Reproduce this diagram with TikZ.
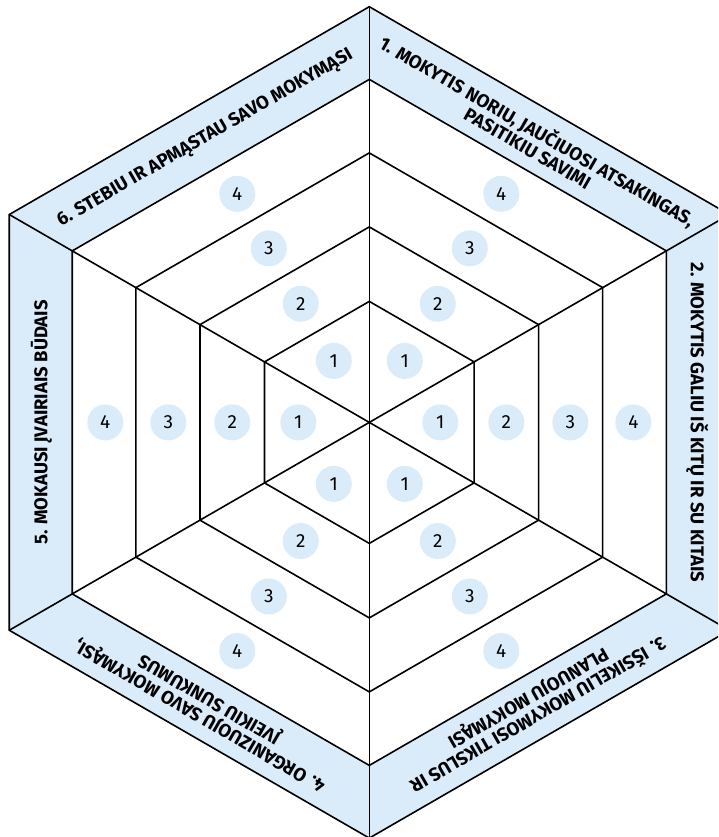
\documentclass[tikz,border=0pt]{standalone}
\usepackage{fontspec}
\setmainfont{Fira Sans}
\definecolor{paleblue}{RGB}{218,235,250}

\begin{document}
\begin{tikzpicture}[x=1pt, y=1pt]
	\tikzset{band/.style = {fill=paleblue, even odd rule}}
	\tikzset{grid/.style = {draw, line width=1.6pt, line join=miter}}
	\tikzset{score/.style = {shape=circle, fill=paleblue, minimum size=36pt,
			inner sep=0pt, font=\fontsize{19}{19}\selectfont}}
	\tikzset{title/.style = {align=center,
			font=\bfseries\fontsize{18.5}{19}\selectfont}}
    \clip (-369.3,-414.6) rectangle (348.7,422.4);
    \coordinate (o) at (0,0);
    % outer band
    \fill[band] (90:415.7) -- (30:415.7) -- (-30:415.7) -- (-90:415.7) -- (-150:415.7) -- (150:415.7) -- cycle
                (90:343) -- (30:343) -- (-30:343) -- (-90:343) -- (-150:343) -- (150:343) -- cycle;
    % rings
    \draw[grid] (90:121) -- (30:121) -- (-30:121) -- (-90:121) -- (-150:121) -- (150:121) -- cycle;
    \draw[grid] (90:195.5) -- (30:195.5) -- (-30:195.5) -- (-90:195.5) -- (-150:195.5) -- (150:195.5) -- cycle;
    \draw[grid] (90:269.5) -- (30:269.5) -- (-30:269.5) -- (-90:269.5) -- (-150:269.5) -- (150:269.5) -- cycle;
    \draw[grid] (90:343) -- (30:343) -- (-30:343) -- (-90:343) -- (-150:343) -- (150:343) -- cycle;
    \draw[grid] (90:415.7) -- (30:415.7) -- (-30:415.7) -- (-90:415.7) -- (-150:415.7) -- (150:415.7) -- cycle;
    % spokes
    \draw[grid] (90:415.7) -- (o) -- (-90:415.7);
    \draw[grid] (30:415.7) -- (o) -- (-150:415.7);
    \draw[grid] (-30:415.7) -- (o) -- (150:415.7);
    % scores
    \node[score] (a1) at (60:71) {1};
    \node[score] (a2) at (60:137) {2};
    \node[score] (a3) at (60:201) {3};
    \node[score] (a4) at (60:264) {4};
    \node[score] (b1) at (0:71) {1};
    \node[score] (b2) at (0:137) {2};
    \node[score] (b3) at (0:201) {3};
    \node[score] (b4) at (0:264) {4};
    \node[score] (c1) at (-60:71) {1};
    \node[score] (c2) at (-60:137) {2};
    \node[score] (c3) at (-60:201) {3};
    \node[score] (c4) at (-60:264) {4};
    \node[score] (d1) at (-120:71) {1};
    \node[score] (d2) at (-120:137) {2};
    \node[score] (d3) at (-120:201) {3};
    \node[score] (d4) at (-120:264) {4};
    \node[score] (e1) at (180:71) {1};
    \node[score] (e2) at (180:137) {2};
    \node[score] (e3) at (180:201) {3};
    \node[score] (e4) at (180:264) {4};
    \node[score] (f1) at (120:71) {1};
    \node[score] (f2) at (120:137) {2};
    \node[score] (f3) at (120:201) {3};
    \node[score] (f4) at (120:264) {4};
    % titles
    \node[title, rotate=-30] (ta) at (60:328) {1. MOKYTIS NORIU, JAUČIUOSI ATSAKINGAS,\\PASITIKIU SAVIMI};
    \node[title, rotate=-90] (tb) at (0:328) {2. MOKYTIS GALIU IŠ KITŲ IR SU KITAIS};
    \node[title, rotate=210] (tc) at (-60:328) {3. IŠSIKELIU MOKYMOSI TIKSLUS IR\\PLANUOJU MOKYMĄSI};
    \node[title, rotate=150] (td) at (-120:328) {4. ORGANIZUOJU SAVO MOKYMĄSI,\\ĮVEIKIU SUNKUMUS};
    \node[title, rotate=90] (te) at (180:328) {5. MOKAUSI ĮVAIRIAIS BŪDAIS};
    \node[title, rotate=30] (tf) at (120:328) {6. STEBIU IR APMĄSTAU SAVO MOKYMĄSI};
\end{tikzpicture}
\end{document}
